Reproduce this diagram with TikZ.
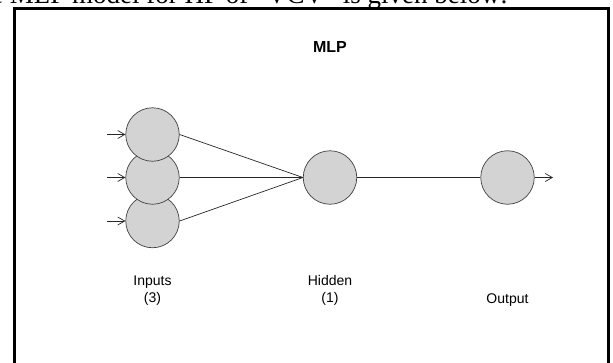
\documentclass[tikz,border=0pt]{standalone}
\usepackage{fontspec}
\setmainfont{Liberation Sans}
\newfontfamily\serifdoc{Liberation Serif}
\usetikzlibrary{arrows.meta}
\tikzset{
  neuron/.style={circle, draw=black!75, line width=0.7pt, fill={rgb,255:red,211;green,211;blue,211}, minimum size=53.5pt, inner sep=0pt},
  conn/.style={line width=0.7pt, draw=black!85},
  inarrow/.style={conn, -{Straight Barb[length=7pt,width=8pt,line width=0.7pt]}},
  lbl/.style={font=\fontsize{14}{16}\selectfont, inner sep=0pt, anchor=base},
  frame/.style={line width=3pt, draw=black}
}
\begin{document}
\begin{tikzpicture}[x=1pt,y=-1pt]
\useasboundingbox (0,0) rectangle (613,362);
\clip (0,0) rectangle (613,362);
% clipped line of running text above the figure
\node[inner sep=0pt, anchor=base east, font=\serifdoc\fontsize{27}{30}\selectfont] (cap) at (508,3) {the MLP model for HP of “VCV” is given below:};
% frame
\draw[frame] (14.5,370) -- (14.5,8.5) -- (608,8.5) -- (608,370);
% title
\node[inner sep=0pt, anchor=base, font=\fontsize{16}{18}\bfseries\selectfont] (title) at (330,52) {MLP};
% neurons
\node[neuron] (i3) at (152.5,221) {};
\node[neuron] (i2) at (152.5,177.5) {};
\node[neuron] (i1) at (152.5,134.5) {};
\node[neuron] (h) at (330,177.5) {};
\node[neuron] (o) at (507.5,177.5) {};
% input arrows
\coordinate (a1) at (107,134.5);
\coordinate (a2) at (107,177.5);
\coordinate (a3) at (107,221);
\draw[inarrow] (a1) -- (i1.west);
\draw[inarrow] (a2) -- (i2.west);
\draw[inarrow] (a3) -- (i3.west);
% connections
\draw[conn] (i1.east) -- (h.west);
\draw[conn] (i2.east) -- (h.west);
\draw[conn] (i3.east) -- (h.west);
\draw[conn] (h.east) -- (o.west);
\coordinate (oe) at (553,177.5);
\draw[inarrow] (o.east) -- (oe);
% labels
\node[lbl] (linputs) at (152.5,285) {Inputs};
\node[lbl] (linputsn) at (152.5,302) {(3)};
\node[lbl] (lhidden) at (330,285) {Hidden};
\node[lbl] (lhiddenn) at (330,302) {(1)};
\node[lbl] (loutput) at (507.5,303) {Output};
\end{tikzpicture}
\end{document}
